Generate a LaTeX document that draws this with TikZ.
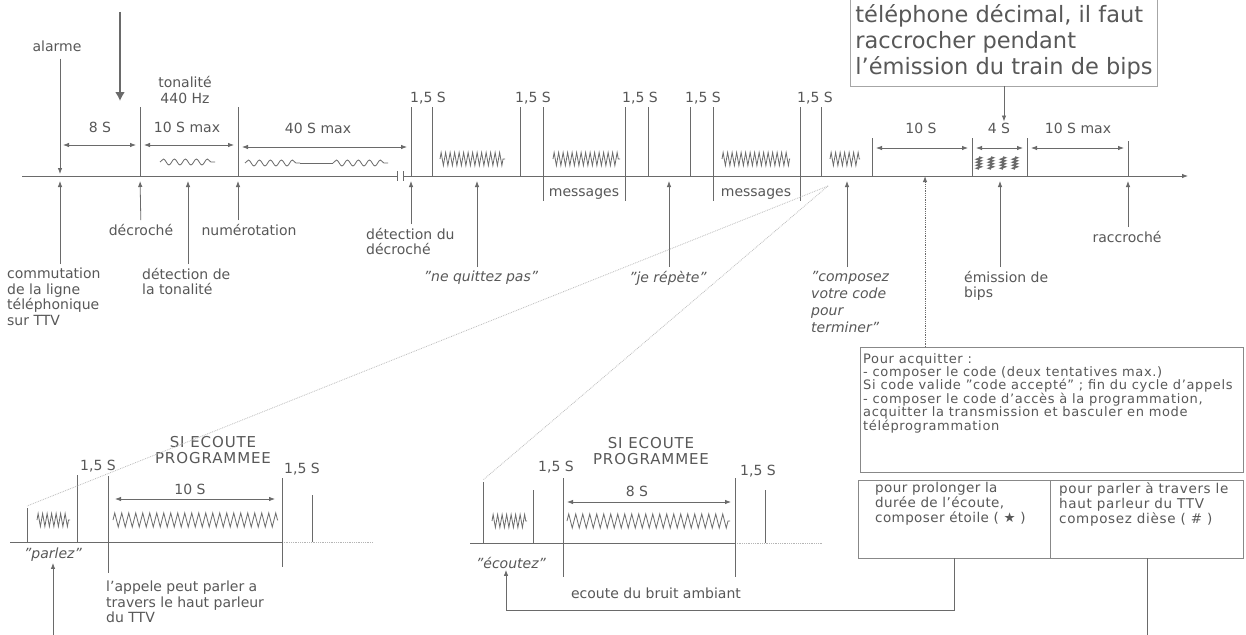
\documentclass[tikz,border=0pt]{standalone}
\usepackage{fontspec}
\setmainfont{DejaVu Sans}
\usepackage{xcolor}
\usepackage{tikz}
\usetikzlibrary{arrows.meta,positioning,decorations.pathmorphing}

\definecolor{ink}{HTML}{585858}
\definecolor{rule}{HTML}{6A6A6A}

\begin{document}
\begin{tikzpicture}[x=1pt, y=-1pt, >={Latex[length=6pt,width=4.5pt]},
        every node/.style={text=ink, inner sep=1pt},
        lbl/.style={font=\fontsize{14}{15.5}\selectfont, align=left},
        quote/.style={align=left, font=\fontsize{14}{17}\selectfont\itshape},
        boxtext/.style={align=left, anchor=north west, font=\fontsize{13}{13.4}\selectfont\addfontfeature{LetterSpace=5}},
        rl/.style={draw=rule, line width=0.8pt},
        uparr/.style={rl, ->, shorten >=5pt, shorten <=3pt},
        span/.style={rl, <->},
        tone/.style={rl, decorate, decoration={snake, amplitude=3pt, segment length=11pt}},
        ring/.style={rl, decorate, decoration={zigzag, amplitude=6.5pt, segment length=4.5pt}},
        bigring/.style={rl, decorate, decoration={zigzag, amplitude=7pt, segment length=7pt}}]
        \fill [white] (0,0) rectangle (1246,634);
        \useasboundingbox (0,0) rectangle (1246,634);

        % Time line
        \coordinate (t0) at (22,176);
        \coordinate (tend) at (1188,176);
        \draw [rl, ->] (t0) -- (tend);
        \fill [white] (397,171) rectangle (404,181);
        \draw [rl, line width=0.6pt] (397,171) -- (397,181) (403,171) -- (403,181);

        \coordinate (e0) at (60,176);
        \coordinate (e1) at (140,176);
        \coordinate (e2) at (188,176);
        \coordinate (e3) at (238,176);
        \coordinate (e4) at (411,176);
        \coordinate (e5) at (477,176);
        \coordinate (e6) at (669,176);
        \coordinate (e7) at (847,176);
        \coordinate (e8) at (925,176);
        \coordinate (e9) at (1000,176);
        \coordinate (e10) at (1128,176);

        \foreach \x/\y in {140/107, 238/107, 411/107, 432/107, 520/107, 543/107, 625/107, 648/107,
                           690/107, 713/107, 800/107, 821/107, 872/138, 972/138, 1027/138, 1128/141}
            \draw [rl] (\x,\y) -- (\x,176);
        \foreach \x in {543, 625, 713, 800}
            \draw [rl] (\x,176) -- (\x,201);

        % Call start
        \coordinate (bigtop) at (120,12);
        \coordinate (bigtip) at (120,101);
        \draw [draw=rule, line width=2.5pt, -{Latex[length=9pt,width=10pt]}] (bigtop) -- (bigtip);
        \node (alarme) [lbl] at (57,46) {alarme};
        \draw [rl, ->, shorten <=6pt, shorten >=2pt] (alarme.south -| e0) -- (e0);
        \node (tonalite) [lbl, align=center] at (185,90) {tonalité\\440 Hz};
        \node (d8) [lbl] at (100,127) {8 S};
        \node (d10max) [lbl] at (187,127) {10 S max};
        \node (d40max) [lbl] at (318,128) {40 S max};
        \draw [span] (63,145) -- (136,145);
        \draw [span] (144,145) -- (234,145);
        \draw [span] (242,147) -- (407,147);
        \draw [tone] (160,162) -- (215,162);
        \draw [tone] (245,163) -- (300,163);
        \draw [rl] (300,163) -- (333,163);
        \draw [tone] (333,163) -- (388,163);

        % Messages
        \foreach \x in {409, 514, 621, 684, 796}
            \node (p\x) [lbl, anchor=west] at (\x,98) {1,5 S};
        \draw [ring] (440,159) -- (505,159);
        \draw [ring] (553,159) -- (620,159);
        \draw [ring] (722,159) -- (790,159);
        \draw [ring] (830,159) -- (860,159);
        \node (msg1) [lbl] at (584,194) {messages};
        \node (msg2) [lbl] at (756,194) {messages};

        % Code and bips
        \node (d10) [lbl] at (921,128) {10 S};
        \node (d4) [lbl] at (999,128) {4 S};
        \node (d10b) [lbl] at (1078,128) {10 S max};
        \draw [span] (876,148) -- (968,148);
        \draw [span] (976,148) -- (1023,148);
        \draw [span] (1031,148) -- (1124,148);
        \foreach \x in {979, 991, 1003, 1015}
            \draw [rl, line width=1.6pt, decorate, decoration={zigzag, amplitude=2pt, segment length=3pt}] (\x,157) -- (\x,169);
        \node (note) [draw=rule!60, anchor=south, align=left, inner xsep=5pt, inner ysep=7pt,
            font=\fontsize{22.5}{26}\selectfont] at (1004,86) {téléphone décimal, il faut\\raccrocher pendant\\l'émission du train de bips};
        \draw [rl, ->] (note.south) -- (note.south |- d4.north);

        % Events
        \node (decroche) [lbl] at (141,230) {décroché};
        \node (numero) [lbl] at (249,230) {numérotation};
        \node (comm) [lbl, anchor=north west] at (6,267) {commutation\\de la ligne\\téléphonique\\sur TTV};
        \node (dtone) [lbl, anchor=north west] at (141,267) {détection de\\la tonalité};
        \node (ddec) [lbl, anchor=north west] at (365,227) {détection du\\décroché};
        \node (quitte) [quote] at (481,278) {"ne quittez pas"};
        \node (repete) [quote] at (668,278) {"je répète"};
        \node (compose) [quote, anchor=north west] at (810,270) {"composez\\votre code\\pour\\terminer"};
        \node (bips) [lbl, anchor=north west] at (963,270) {émission de\\bips};
        \node (raccroche) [lbl] at (1127,237) {raccroché};
        \draw [uparr] (comm.north -| e0) -- (e0);
        \draw [uparr] (decroche) -- (e1);
        \draw [uparr] (dtone.north -| e2) -- (e2);
        \draw [uparr] (numero.north -| e3) -- (e3);
        \draw [uparr] (ddec.north -| e4) -- (e4);
        \draw [uparr] (quitte.north -| e5) -- (e5);
        \draw [uparr] (repete.north -| e6) -- (e6);
        \draw [uparr] (compose.north -| e7) -- (e7);
        \draw [uparr] (bips.north -| e9) -- (e9);
        \draw [uparr] (raccroche.north -| e10) -- (e10);

        % Acknowledge
        \node (ack) [draw=rule!80, anchor=north west, minimum width=383pt, minimum height=125pt] at (860,347) {};
        \node (acktext) [boxtext] at (862,352)
            {Pour acquitter :\\- composer le code (deux tentatives max.)\\Si code valide "code accepté" ; fin du cycle d'appels\\- composer le code d'accès à la programmation,\\acquitter la transmission et basculer en mode\\téléprogrammation};
        \draw [rl, ->, densely dotted, line width=1pt] (ack.north -| e8) -- (e8);
        \node (prolong) [draw=rule!80, anchor=north west, minimum width=192pt, minimum height=78pt] at (858,480) {};
        \node (parler) [draw=rule!80, anchor=north west, minimum width=193pt, minimum height=78pt] at (prolong.north east) {};
        \node (prolongtext) [boxtext, font=\fontsize{13.5}{15}\selectfont\addfontfeature{LetterSpace=3}] at (874,481)
            {pour prolonger la\\durée de l'écoute,\\composer étoile ( ★ )};
        \node (parlertext) [boxtext, font=\fontsize{13.5}{15}\selectfont\addfontfeature{LetterSpace=5}] at (1058,481)
            {pour parler à travers le\\haut parleur du TTV\\composez dièse ( \# )};

        % Ecoute programmee: parler
        \draw [rl] (10,542) -- (282,542);
        \draw [rl, draw=rule!50, densely dotted] (282,542) -- (373,542);
        \foreach \x/\a/\b in {27/508/542, 77/475/542, 108/476/573, 282/478/567, 312/495/542}
            \draw [rl] (\x,\a) -- (\x,\b);
        \draw [ring] (37,520) -- (70,520);
        \draw [bigring] (113,520) -- (278,520);
        \draw [span] (115,499) -- (275,499);
        \node (si1) [lbl, align=center, font=\fontsize{15}{16}\selectfont\addfontfeature{LetterSpace=6}] at (213,450) {SI ECOUTE\\PROGRAMMEE};
        \node (p1a) [lbl, anchor=west] at (79,466) {1,5 S};
        \node (p1b) [lbl, anchor=west] at (283,469) {1,5 S};
        \node (d10c) [lbl] at (190,489) {10 S};
        \node (parlez) [quote] at (53,555) {"parlez"};
        \node (appele) [lbl, anchor=north west] at (105,580) {l'appele peut parler a\\travers le haut parleur\\du TTV};

        % Ecoute programmee: ecoutez
        \draw [rl] (470,543) -- (735,543);
        \draw [rl, draw=rule!50, densely dotted] (735,543) -- (823,543);
        \foreach \x/\a/\b in {483/482/543, 533/490/543, 563/478/577, 735/478/577, 765/490/543}
            \draw [rl] (\x,\a) -- (\x,\b);
        \draw [ring] (492,521) -- (527,521);
        \draw [bigring] (567,521) -- (730,521);
        \draw [span] (567,502) -- (731,502);
        \node (si2) [lbl, align=center, font=\fontsize{15}{16}\selectfont\addfontfeature{LetterSpace=6}] at (651,451) {SI ECOUTE\\PROGRAMMEE};
        \node (p2a) [lbl, anchor=west] at (537,467) {1,5 S};
        \node (p2b) [lbl, anchor=west] at (739,471) {1,5 S};
        \node (d8b) [lbl] at (637,491) {8 S};
        \node (ecoutez) [quote] at (511,563) {"écoutez"};
        \node (ambiant) [lbl] at (656,593) {ecoute du bruit ambiant};

        % Links
        \coordinate (ecbend) at (506,610);
        \draw [rl, ->] (prolong.south) |- (ecbend) -- (ecoutez.south -| ecbend);
        \draw [rl, ->] (parler.south) -- ++(0,100) -| (parlez.south);
        \coordinate (fan) at (828,186);
        \draw [draw=rule!45, line width=0.8pt, densely dotted] (fan) -- (27,506);
        \draw [draw=rule!45, line width=0.8pt, densely dotted] (fan) -- (483,480);
\end{tikzpicture}
\end{document}
